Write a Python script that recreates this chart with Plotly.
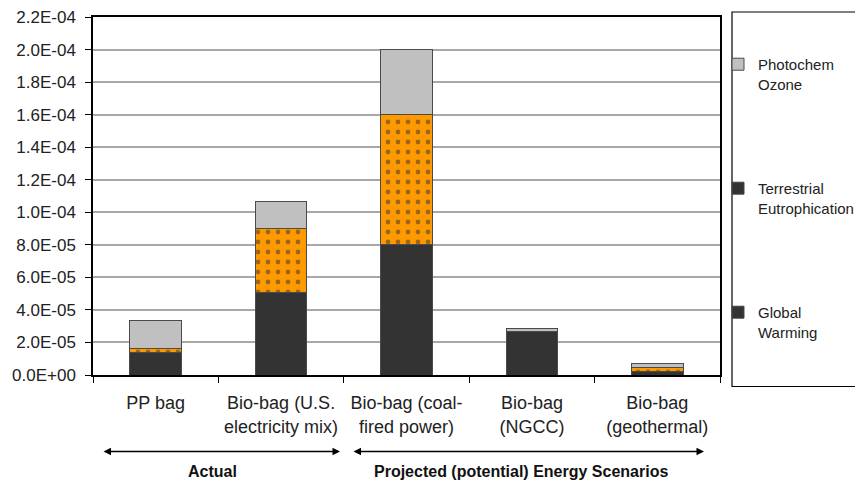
import plotly.graph_objects as go

categories = ["PP bag", "Bio-bag (U.S.<br>electricity mix)", "Bio-bag (coal-<br>fired power)",
              "Bio-bag<br>(NGCC)", "Bio-bag<br>(geothermal)"]
global_warming = [1.4e-5, 5.05e-5, 8.0e-5, 2.68e-5, 2.2e-6]
terrestrial_eutrophication = [2.3e-6, 3.95e-5, 8.0e-5, 0.0, 2.4e-6]
photochem_ozone = [1.72e-5, 1.67e-5, 4.0e-5, 1.8e-6, 2.5e-6]
ytick_vals = [i * 2e-5 for i in range(12)]
ytick_text = ["0.0E+00", "2.0E-05", "4.0E-05", "6.0E-05", "8.0E-05", "1.0E-04",
              "1.2E-04", "1.4E-04", "1.6E-04", "1.8E-04", "2.0E-04", "2.2E-04"]
legend_names = ["Photochem<br>Ozone", "Terrestrial<br>Eutrophication", "Global<br>Warming"]

DARK = "#333333"
GRAY = "#C0C0C0"
ORANGE = "#FF9900"
EDGE = "#4a4a4a"
FONT = "Liberation Sans, Arial, sans-serif"

L, R, T, B = 93, 720, 17, 375.5
PW, PH = R - L, B - T

def px(x):
    return (x - L) / PW

def py(y):
    return (B - y) / PH

fig = go.Figure()
fig.add_trace(go.Bar(x=categories, y=global_warming, marker=dict(color=DARK, line=dict(color=EDGE, width=1)),
                     width=0.41, showlegend=False))
fig.add_trace(go.Bar(x=categories, y=terrestrial_eutrophication,
                     marker=dict(color=ORANGE, line=dict(color=EDGE, width=1),
                                 pattern=dict(shape=".", fgcolor=DARK, bgcolor=ORANGE, size=10, solidity=0.18)),
                     width=0.41, showlegend=False))
fig.add_trace(go.Bar(x=categories, y=photochem_ozone, marker=dict(color=GRAY, line=dict(color=EDGE, width=1)),
                     width=0.41, showlegend=False))

legend_colors = [GRAY, DARK, DARK]
for i, (nm, col) in enumerate(zip(legend_names, legend_colors)):
    fig.add_trace(go.Bar(x=[None], y=[None], name=nm, legendgroup=str(i),
                         marker=dict(color=col, line=dict(color=EDGE, width=1)), showlegend=True))

# legend box
fig.add_shape(type="rect", xref="paper", yref="paper", x0=px(732), x1=px(875),
              y0=py(387), y1=py(12), line=dict(color="black", width=1.2))

# arrows
yp = py(452)
for x0, x1 in [(102, 340), (352, 704)]:
    fig.add_annotation(xref="paper", yref="paper", x=px(x1), y=yp, ax=-(x1 - x0), ay=0,
                       text="", showarrow=True, arrowhead=2, arrowside="end+start", arrowsize=1,
                       arrowwidth=1.5, arrowcolor="black")
fig.add_annotation(xref="paper", yref="paper", x=px(212), y=py(472), text="<b>Actual</b>",
                   xanchor="center", yanchor="middle",
                   showarrow=False, font=dict(size=16, color="#111", family=FONT))
fig.add_annotation(xref="paper", yref="paper", x=px(521), y=py(472),
                   text="<b>Projected (potential) Energy Scenarios</b>",
                   xanchor="center", yanchor="middle",
                   showarrow=False, font=dict(size=16, color="#111", family=FONT))

fig.update_layout(
    barmode="stack",
    width=855, height=483,
    margin=dict(l=L, r=855 - R, t=T, b=483 - B, autoexpand=False),
    paper_bgcolor="white", plot_bgcolor="white",
    font=dict(family=FONT, color="#222"),
    legend=dict(x=px(718), y=py(48), xanchor="left", yanchor="top", valign="top",
                traceorder="grouped", tracegroupgap=82, bgcolor="rgba(0,0,0,0)",
                font=dict(size=15, color="#222", family=FONT), itemwidth=30),
    xaxis=dict(tickfont=dict(size=18, color="#222"), showline=True, linecolor="black", linewidth=1.5,
               mirror=True, ticks="outside", tickson="boundaries", ticklen=6, tickcolor="black",
               ticklabelstandoff=11, range=[-0.5, 4.5], fixedrange=True),
    yaxis=dict(range=[0, 2.2e-4], tickvals=ytick_vals, ticktext=ytick_text, tickfont=dict(size=17, color="#222"),
               showgrid=True, gridcolor="#A8A8A8", gridwidth=1.5, showline=True, linecolor="black",
               linewidth=1.5, mirror=True, ticks="outside", ticklen=6, tickcolor="black", zeroline=False,
               ticklabelstandoff=6),
)

fig.write_html("out.html", config={"displayModeBar": False},
               post_script="document.body.style.margin='0';document.body.style.overflow='hidden';")
